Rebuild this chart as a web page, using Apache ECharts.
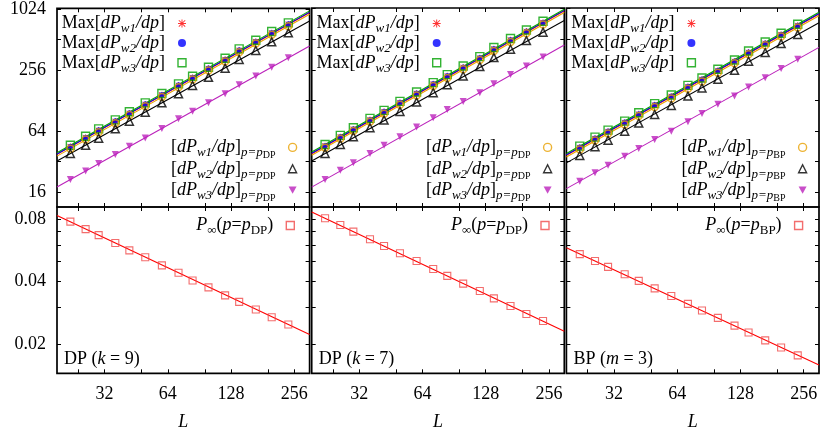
<!DOCTYPE html>
<html><head><meta charset="utf-8">
<script src="https://cdn.jsdelivr.net/npm/echarts@6/dist/echarts.min.js"></script>
<style>html,body{margin:0;padding:0;background:#fff}#c{width:830px;height:433px}</style>
</head><body><div id="c"></div>
<script>
// ---------------- data ----------------
const L = [22, 26, 30, 36, 42, 50, 60, 72, 84, 100, 120, 140, 168, 200, 240];
const LFIT = [19, 303];

// tick values
const xTicks = [24, 32, 48, 64, 96, 128, 192, 256];
const xLabels = [32, 64, 128, 256];
const yTopTicks = [16, 32, 64, 128, 256, 512, 1024];
const yTopLabels = [16, 64, 256, 1024];
const yBotTicks = [0.02, 0.03, 0.04, 0.05, 0.06, 0.07, 0.08];
const yBotLabels = [0.02, 0.04, 0.08];

// DP (k = 9)
const maxW1_k9 = [44.6, 54.8, 64.8, 79.5, 95.4, 117, 144.5, 180, 214, 263, 323, 399, 485, 591, 721];
const maxW2_k9 = [45.0, 55.4, 65.5, 80.3, 96.4, 118.2, 146, 182, 216, 266, 326, 403, 490, 597, 728];
const maxW3_k9 = [46.3, 56.9, 67.3, 82.5, 99.1, 121.5, 150, 187, 222, 273, 335, 414, 504, 614, 748];
const atW1_k9 = [42.9, 52.7, 62.4, 76.5, 91.9, 112.6, 139, 173, 206, 253, 311, 384, 467, 569, 693];
const atW2_k9 = [38.4, 46.3, 54.3, 67.3, 80.0, 98.1, 121.5, 149, 180, 217, 267, 325, 399, 486, 596];
const atW3_k9 = [21.3, 25.9, 30.6, 37.5, 45.3, 54.8, 67.7, 84.4, 100.4, 121.5, 149, 183, 224, 273, 338];
const fitMaxW1_k9 = [37.7, 945];
const fitMaxW2_k9 = [38.0, 954];
const fitMaxW3_k9 = [39.1, 981];
const fitAtW1_k9 = [36.2, 909];
const fitAtW2_k9 = [32.4, 779];
const fitAtW3_k9 = [17.95, 442];
const pInf_k9 = [0.0779, 0.0717, 0.0671, 0.0614, 0.0566, 0.0524, 0.0479, 0.0441, 0.0405, 0.0375, 0.0343, 0.0319, 0.0293, 0.0269, 0.0248];
const fitPInf_k9 = [0.0835, 0.0222];

// DP (k = 7)
const maxW1_k7 = [45.3, 55.6, 66.2, 81.9, 98.2, 120.5, 148.9, 184.2, 221.2, 269, 333, 408.5, 501, 609, 742];
const maxW2_k7 = [45.8, 56.2, 66.9, 82.7, 99.2, 121.7, 150.4, 186.1, 223.4, 271.7, 336.3, 412.6, 506, 615, 750];
const maxW3_k7 = [47.1, 57.8, 68.8, 85.0, 102.0, 125.1, 154.6, 191.3, 229.6, 279.2, 345.6, 424, 520, 632, 771];
const atW1_k7 = [43.7, 53.6, 63.8, 78.8, 94.6, 116.0, 143.3, 177.3, 212.8, 258.8, 320.4, 393, 482, 586, 715];
const atW2_k7 = [38.4, 47.1, 56.1, 68.8, 81.8, 99.7, 123.1, 152.4, 182.9, 222.4, 275.3, 337.8, 407.8, 497, 600.6];
const atW3_k7 = [21.3, 26.3, 31.1, 38.4, 46.3, 56.1, 69.8, 86.4, 104.3, 125.1, 152.4, 187.1, 229.6, 279.2, 342.5];
const fitMaxW1_k7 = [38.2, 975];
const fitMaxW2_k7 = [38.6, 985];
const fitMaxW3_k7 = [39.7, 1012];
const fitAtW1_k7 = [36.8, 938];
const fitAtW2_k7 = [32.4, 785];
const fitAtW3_k7 = [17.9, 449];
const pInf_k7 = [0.0809, 0.0751, 0.0697, 0.0641, 0.0594, 0.0548, 0.0503, 0.0460, 0.0426, 0.0391, 0.0360, 0.0332, 0.0305, 0.0279, 0.0258];
const fitPInf_k7 = [0.0867, 0.0230];

// BP (m = 3)
const maxW1_m3 = [43.7, 53.6, 62.8, 77.0, 93.3, 114.4, 139.1, 173.3, 204.6, 249.4, 308.1, 378, 463.7, 565, 693.6];
const maxW2_m3 = [44.1, 54.1, 63.4, 77.8, 94.2, 115.6, 140.5, 175.1, 206.7, 251.9, 311.2, 381.8, 468.4, 571, 700.6];
const maxW3_m3 = [45.3, 55.6, 65.2, 80.0, 96.8, 118.8, 144.4, 180.0, 212.4, 258.9, 319.8, 392.4, 481.4, 587, 720];
const atW1_m3 = [42.0, 51.5, 60.4, 74.2, 89.7, 110.1, 133.9, 166.9, 196.9, 240.0, 296.5, 363.8, 446.3, 544, 667];
const atW2_m3 = [36.7, 44.7, 51.9, 63.7, 76.4, 93.1, 114.2, 141.1, 169.3, 206.4, 253.2, 310.6, 378.5, 464.3, 569.6];
const atW3_m3 = [20.4, 24.8, 29.4, 36.1, 43.0, 52.7, 63.7, 78.9, 95.3, 116.9, 141.1, 173.2, 214.4, 263.0, 325.0];
const fitMaxW1_m3 = [36.9, 909];
const fitMaxW2_m3 = [37.3, 918];
const fitMaxW3_m3 = [38.3, 943];
const fitAtW1_m3 = [35.5, 874];
const fitAtW2_m3 = [31.0, 744];
const fitAtW3_m3 = [17.3, 425.6];
const pInf_m3 = [0.0543, 0.0503, 0.0471, 0.0434, 0.0403, 0.0371, 0.0341, 0.0312, 0.0290, 0.0267, 0.0245, 0.0227, 0.0208, 0.0192, 0.0176];
const fitPInf_m3 = [0.0583, 0.0158];

const panelTags = ['DP', 'DP', 'BP'];
const panelLabels = ['{n|DP (}{i|k}{n| = 9)}', '{n|DP (}{i|k}{n| = 7)}', '{n|BP (}{i|m}{n| = 3)}'];

// ---------------- layout / style ----------------
const FONT = 'Liberation Serif';
const FS = 18;
const colLeft = [57, 311.7, 566.4];
const colW = 252.6;
const topRow = { top: 8, height: 199 };
const botRow = { top: 207, height: 166.3 };
const X_RANGE = [19, 303];
const YT_RANGE = [11.4, 1040];
const YB_RANGE = [0.01442, 0.0917];

const COL = { red: '#ff0000', blue: '#0000ff', green: '#00a000', orange: '#e8a000', black: '#000000', magenta: '#bb22bb', pinf: '#f04848' };
const ASTERISK = 'path://M0 4.4L10 4.4L10 5.6L0 5.6Z M4.4 0L5.6 0L5.6 10L4.4 10Z M0.6 1.4L1.4 0.6L9.4 8.6L8.6 9.4Z M8.6 0.6L9.4 1.4L1.4 9.4L0.6 8.6Z';
const TRI_DOWN = 'path://M0 0L10 0L5 9Z';
const CLEAR = 'rgba(0,0,0,0)';

const rich = {
  n: { fontFamily: FONT, fontSize: FS, lineHeight: 18, color: '#000' },
  i: { fontFamily: FONT, fontSize: FS, lineHeight: 18, fontStyle: 'italic', color: '#000' },
  s: { fontFamily: FONT, fontSize: 13, height: 7, lineHeight: 7, verticalAlign: 'bottom', fontStyle: 'italic', color: '#000' },
  sr: { fontFamily: FONT, fontSize: 13, height: 7, lineHeight: 7, verticalAlign: 'bottom', color: '#000' },
  ss: { fontFamily: FONT, fontSize: 10, height: 2, lineHeight: 2, verticalAlign: 'bottom', color: '#000' },
  g: { fontFamily: FONT, fontSize: FS, lineHeight: 18, width: 8 }
};

function legendText(name) {
  if (name.indexOf('Max') === 0) {
    const w = name.match(/w(\d)/)[1];
    return '{n|Max[}{i|dP}{s|w' + w + '}{i|/dp}{n|]}{g| }';
  }
  if (name.indexOf('P∞') === 0) {
    const tag = name.slice(2);
    return '{i|P}{sr|∞}{n|(}{i|p}{n|=}{i|p}{sr|' + tag + '}{n|)}{g| }';
  }
  const m = name.match(/w(\d)\/dp\](\w+)/);
  return '{n|[}{i|dP}{s|w' + m[1] + '}{i|/dp}{n|]}{s|p=p}{ss|' + m[2] + '}{g| }';
}

const grids = [], xAxes = [], yAxes = [], series = [], legends = [], titles = [];

function addAxes(gi, isTop, col) {
  const xi = xAxes.length, yi = yAxes.length;
  ['bottom', 'top'].forEach(pos => {
    xAxes.push({
      type: 'log', logBase: 2, gridIndex: gi, position: pos, min: X_RANGE[0], max: X_RANGE[1],
      axisLine: { show: false }, splitLine: { show: false },
      axisTick: { show: true, inside: true, length: 4, customValues: xTicks, lineStyle: { color: '#000', width: 1 } },
      axisLabel: { show: pos === 'bottom' && !isTop, customValues: xLabels, margin: 12,
        fontFamily: FONT, fontSize: FS, color: '#000', formatter: v => String(Math.round(v)) },
      name: (pos === 'bottom' && !isTop) ? 'L' : '', nameLocation: 'middle', nameGap: 40,
      nameTextStyle: { fontFamily: FONT, fontSize: FS, fontStyle: 'italic', color: '#000' }
    });
  });
  ['left', 'right'].forEach(pos => {
    yAxes.push({
      type: 'log', logBase: 2, gridIndex: gi, position: pos,
      min: isTop ? YT_RANGE[0] : YB_RANGE[0], max: isTop ? YT_RANGE[1] : YB_RANGE[1],
      axisLine: { show: false }, splitLine: { show: false },
      axisTick: { show: true, inside: true, length: 4, customValues: isTop ? yTopTicks : yBotTicks, lineStyle: { color: '#000', width: 1 } },
      axisLabel: { show: pos === 'left' && col === 0, customValues: isTop ? yTopLabels : yBotLabels, margin: 11,
        fontFamily: FONT, fontSize: FS, color: '#000',
        formatter: v => isTop ? String(Math.round(v)) : v.toFixed(2) }
    });
  });
  return { xi, yi };
}

function scatter(name, data, ax, symbol, size, itemStyle, z) {
  series.push({
    type: 'scatter', name, xAxisIndex: ax.xi, yAxisIndex: ax.yi, symbol, symbolSize: size,
    data: L.map((l, k) => [l, data[k]]), itemStyle, z, silent: true, animation: false
  });
}
function fitLine(name, ends, ax, color) {
  series.push({
    type: 'line', name, xAxisIndex: ax.xi, yAxisIndex: ax.yi, showSymbol: false, symbol: 'none',
    data: LFIT.map((l, k) => [l, ends[k]]), lineStyle: { color, width: 1.1 }, itemStyle: { color },
    z: 1, silent: true, animation: false
  });
}

const panelData = [
  { maxW1: maxW1_k9, maxW2: maxW2_k9, maxW3: maxW3_k9, atW1: atW1_k9, atW2: atW2_k9, atW3: atW3_k9,
    f: [fitMaxW1_k9, fitMaxW2_k9, fitMaxW3_k9, fitAtW1_k9, fitAtW2_k9, fitAtW3_k9], p: pInf_k9, pf: fitPInf_k9 },
  { maxW1: maxW1_k7, maxW2: maxW2_k7, maxW3: maxW3_k7, atW1: atW1_k7, atW2: atW2_k7, atW3: atW3_k7,
    f: [fitMaxW1_k7, fitMaxW2_k7, fitMaxW3_k7, fitAtW1_k7, fitAtW2_k7, fitAtW3_k7], p: pInf_k7, pf: fitPInf_k7 },
  { maxW1: maxW1_m3, maxW2: maxW2_m3, maxW3: maxW3_m3, atW1: atW1_m3, atW2: atW2_m3, atW3: atW3_m3,
    f: [fitMaxW1_m3, fitMaxW2_m3, fitMaxW3_m3, fitAtW1_m3, fitAtW2_m3, fitAtW3_m3], p: pInf_m3, pf: fitPInf_m3 }
];

const legTopLeftIcon = [182.7, 437.4, 692.1];
const legBotRightIcon = [293.3, 548.3, 803.3];
const legPinfIcon = [291, 545.7, 799.3];

panelData.forEach((pd, c) => {
  const tag = panelTags[c];
  // top grid
  const gT = grids.length;
  grids.push({ left: colLeft[c], width: colW, top: topRow.top, height: topRow.height, show: true,
    borderColor: '#000', borderWidth: 1.7, backgroundColor: 'transparent', containLabel: false });
  const axT = addAxes(gT, true, c);
  const nMax1 = 'Max[dPw1/dp]', nMax2 = 'Max[dPw2/dp]', nMax3 = 'Max[dPw3/dp]';
  const nAt1 = '[dPw1/dp]' + tag, nAt2 = '[dPw2/dp]' + tag, nAt3 = '[dPw3/dp]' + tag;
  fitLine('fit1' + c, pd.f[0], axT, COL.red);
  fitLine('fit4' + c, pd.f[3], axT, COL.orange);
  fitLine('fit2' + c, pd.f[1], axT, COL.blue);
  fitLine('fit3' + c, pd.f[2], axT, COL.green);
  fitLine('fit5' + c, pd.f[4], axT, COL.black);
  fitLine('fit6' + c, pd.f[5], axT, COL.magenta);
  scatter(nMax1, pd.maxW1, axT, ASTERISK, 7, { color: COL.red }, 3);
  scatter(nMax2, pd.maxW2, axT, 'circle', 5.5, { color: COL.blue }, 3);
  scatter(nMax3, pd.maxW3, axT, 'rect', 8, { color: CLEAR, borderColor: COL.green, borderWidth: 1.4 }, 3);
  scatter(nAt1, pd.atW1, axT, 'circle', 7, { color: CLEAR, borderColor: COL.orange, borderWidth: 1.5 }, 3);
  scatter(nAt2, pd.atW2, axT, 'triangle', 8, { color: CLEAR, borderColor: COL.black, borderWidth: 1.5 }, 3);
  scatter(nAt3, pd.atW3, axT, TRI_DOWN, 7, { color: COL.magenta }, 3);

  const legCommon = { orient: 'vertical', align: 'right', padding: 0, itemWidth: 8, itemHeight: 8,
    selectedMode: false, formatter: legendText, itemStyle: { borderWidth: 1.4 },
    textStyle: { fontFamily: FONT, fontSize: FS, color: '#000', rich } };
  legends.push(Object.assign({}, legCommon, { data: [nMax1, nMax2, nMax3], itemGap: -1.3,
    right: 830 - (legTopLeftIcon[c] + 4), top: 14.4 }));
  legends.push(Object.assign({}, legCommon, { data: [nAt1, nAt2, nAt3], itemGap: -0.6,
    right: 830 - (legBotRightIcon[c] + 4), top: 138.4 }));

  // bottom grid
  const gB = grids.length;
  grids.push({ left: colLeft[c], width: colW, top: botRow.top, height: botRow.height, show: true,
    borderColor: '#000', borderWidth: 1.7, backgroundColor: 'transparent', containLabel: false });
  const axB = addAxes(gB, false, c);
  const nP = 'P∞' + tag;
  series.push({
    type: 'line', name: 'fitP' + c, xAxisIndex: axB.xi, yAxisIndex: axB.yi, showSymbol: false, symbol: 'none',
    data: LFIT.map((l, k) => [l, pd.pf[k]]), lineStyle: { color: COL.red, width: 1.1 }, z: 1, silent: true, animation: false
  });
  scatter(nP, pd.p, axB, 'rect', 7, { color: CLEAR, borderColor: COL.pinf, borderWidth: 1.1 }, 3);
  legends.push(Object.assign({}, legCommon, { data: [nP], itemGap: 2,
    right: 830 - (legPinfIcon[c] + 4), top: 216.5 }));

  titles.push({ text: panelLabels[c], left: colLeft[c] + 7, top: 350, padding: 0,
    textStyle: { fontFamily: FONT, fontSize: FS, fontWeight: 'normal', color: '#000', rich } });
});

const chart = echarts.init(document.getElementById('c'), null, { renderer: 'canvas' });
chart.setOption({
  animation: false,
  backgroundColor: '#fff',
  title: titles,
  grid: grids,
  xAxis: xAxes,
  yAxis: yAxes,
  legend: legends,
  series: series
});
</script></body></html>
